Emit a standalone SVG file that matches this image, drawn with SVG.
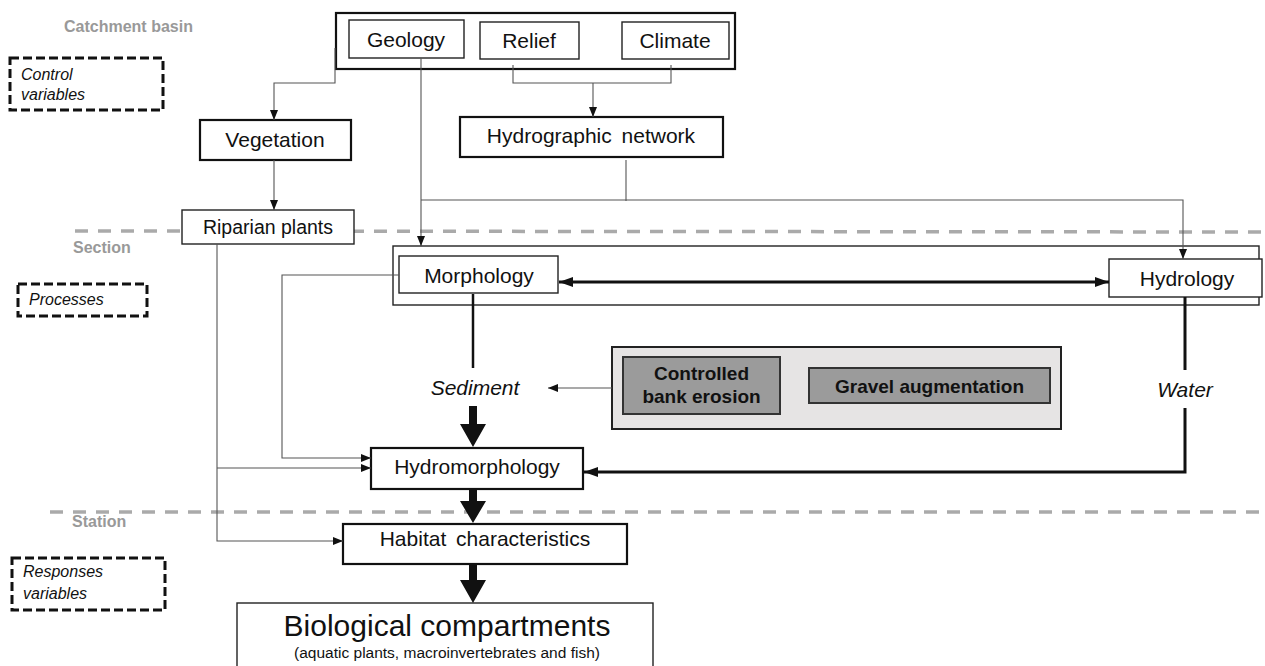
<svg xmlns="http://www.w3.org/2000/svg" width="1265" height="666" viewBox="0 0 1265 666">
<style>
text{font-family:"Liberation Sans",Arial,sans-serif;fill:#111}
.lbl{font-size:21px;text-anchor:middle}
.grey{font-size:16px;font-weight:bold;fill:#999}
.it{font-style:italic;font-size:16px}
.itl{font-style:italic;font-size:21px;text-anchor:middle}
.bold{font-weight:bold;font-size:19px;text-anchor:middle}
.box{fill:#fff;stroke:#111;stroke-width:2.2}
.tbox{fill:#fff;stroke:#222;stroke-width:1.4}
.dbox{fill:none;stroke:#111;stroke-width:3;stroke-dasharray:9 4}
.sep{stroke:#aaa;stroke-width:3.5;stroke-dasharray:13 10;fill:none}
.thin{fill:none;stroke:#555;stroke-width:1.1}
.thick{fill:none;stroke:#111;stroke-width:3}
.big{fill:#111}
</style>
<defs>
<marker id="a" markerUnits="userSpaceOnUse" markerWidth="10" markerHeight="10" viewBox="0 0 10 10" refX="10" refY="5" orient="auto"><path d="M0,1 L10,5 L0,9 Z" fill="#111"/></marker>
<marker id="b" markerUnits="userSpaceOnUse" markerWidth="14" markerHeight="12" viewBox="0 0 14 12" refX="14" refY="6" orient="auto-start-reverse"><path d="M0,1 L14,6 L0,11 Z" fill="#111"/></marker>
</defs>

<g id="separators">
<line class="sep" x1="75" y1="231" x2="1265" y2="232"/>
<line class="sep" x1="50" y1="512" x2="1265" y2="512"/>
</g>

<g id="level-labels">
<text class="grey" x="64" y="32">Catchment basin</text>
<text class="grey" x="73" y="253">Section</text>
<text class="grey" x="72" y="527">Station</text>
</g>

<g id="control-variables">
<rect class="dbox" x="10" y="58" width="153" height="52"/>
<text class="it" x="21" y="80">Control</text>
<text class="it" x="21" y="100">variables</text>
</g>
<g id="processes">
<rect class="dbox" x="18" y="284" width="129" height="32"/>
<text class="it" x="29" y="305">Processes</text>
</g>
<g id="responses-variables">
<rect class="dbox" x="12" y="558" width="153" height="52"/>
<text class="it" x="23" y="577">Responses</text>
<text class="it" x="23" y="599">variables</text>
</g>

<g id="catchment">
<rect class="box" x="336" y="13" width="399" height="56"/>
</g>
<g id="geology">
<rect class="tbox" x="349" y="20" width="115" height="38"/>
<text class="lbl" x="406" y="47">Geology</text>
</g>
<g id="relief">
<rect class="tbox" x="480" y="22" width="99" height="37"/>
<text class="lbl" x="529" y="48">Relief</text>
</g>
<g id="climate">
<rect class="tbox" x="622" y="22" width="107" height="37"/>
<text class="lbl" x="675" y="48">Climate</text>
</g>
<g id="vegetation">
<rect class="box" x="200" y="120" width="151" height="40"/>
<text class="lbl" x="275" y="147">Vegetation</text>
</g>
<g id="hydrographic-network">
<rect class="box" x="460" y="117" width="263" height="40"/>
<text class="lbl" x="591" y="143" word-spacing="4">Hydrographic network</text>
</g>
<g id="riparian-plants">
<rect class="tbox" x="182" y="210" width="172" height="34"/>
<text class="lbl" x="268" y="234" style="font-size:19.5px">Riparian plants</text>
</g>

<g id="section">
<rect class="tbox" x="393" y="246" width="866" height="59"/>
</g>
<g id="morphology">
<rect class="tbox" x="399" y="256" width="159" height="37"/>
<text class="lbl" x="479" y="283">Morphology</text>
</g>
<g id="hydrology">
<rect class="tbox" x="1109" y="259" width="153" height="38"/>
<text class="lbl" x="1187" y="286">Hydrology</text>
</g>

<g id="sediment">
<text class="itl" x="475" y="395">Sediment</text>
</g>
<g id="water">
<text class="itl" x="1185" y="397">Water</text>
</g>

<g id="measures">
<rect x="612" y="347" width="449" height="82" fill="#e6e4e4" stroke="#222" stroke-width="2"/>
</g>
<g id="controlled-bank-erosion">
<rect x="623" y="357" width="157" height="57" fill="#9b9b9b" stroke="#333" stroke-width="2"/>
<text class="bold" x="701.5" y="380">Controlled</text>
<text class="bold" x="701.5" y="403">bank erosion</text>
</g>
<g id="gravel-augmentation">
<rect x="809" y="368" width="241" height="35" fill="#9b9b9b" stroke="#333" stroke-width="2"/>
<text class="bold" x="929.5" y="393">Gravel augmentation</text>
</g>

<g id="hydromorphology">
<rect class="box" x="371" y="448" width="212" height="41"/>
<text class="lbl" x="477" y="474">Hydromorphology</text>
</g>
<g id="habitat-characteristics">
<rect class="box" x="343" y="524" width="284" height="40"/>
<text class="lbl" x="485" y="546" word-spacing="4">Habitat characteristics</text>
</g>
<g id="biological-compartments">
<rect class="tbox" x="237" y="603" width="416" height="70"/>
<text x="447" y="636" style="font-size:30px;text-anchor:middle">Biological compartments</text>
<text x="447" y="658" style="font-size:15.5px;text-anchor:middle">(aquatic plants, macroinvertebrates and fish)</text>
</g>

<g id="connectors">
<path class="thin" d="M335,48 V83 H274 V120" marker-end="url(#a)"/>
<path class="thin" d="M274,160 V210" marker-end="url(#a)"/>
<path class="thin" d="M513,65 V83 H671 V65"/>
<path class="thin" d="M593,83 V117" marker-end="url(#a)"/>
<path class="thin" d="M421,58 V246" marker-end="url(#a)"/>
<path class="thin" d="M421,200 H1183 V259" marker-end="url(#a)"/>
<path class="thin" d="M626,160 V201"/>
<path class="thin" d="M217,244 V541 H343" marker-end="url(#a)"/>
<path class="thin" d="M217,468 H371" marker-end="url(#a)"/>
<path class="thin" d="M399,275 H282 V458 H371" marker-end="url(#a)"/>
<path class="thin" d="M612,388 H548" marker-end="url(#a)"/>
<path class="thick" d="M559,282 H1109" marker-start="url(#b)" marker-end="url(#b)"/>
<path class="thick" d="M473,294 V368" style="stroke-width:2.5"/>
<path class="thick" d="M1185,297 V370"/>
<path class="thick" d="M1185,408 V472 H584" marker-end="url(#b)"/>
<path class="big" d="M469,406 H477 V424 H486 L473,447 L460,424 H469 Z"/>
<path class="big" d="M469,489 H477 V501 H486 L473,523 L460,501 H469 Z"/>
<path class="big" d="M469,564 H477 V580 H486 L473,603 L460,580 H469 Z"/>
</g>
</svg>
